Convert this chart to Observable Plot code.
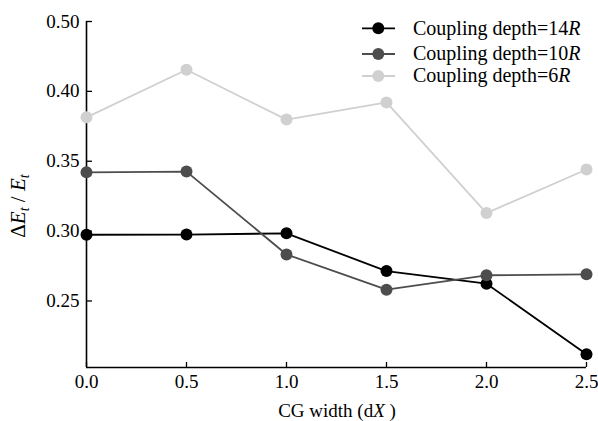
<!DOCTYPE html>
<html>
<head>
<meta charset="utf-8">
<script src="https://cdn.jsdelivr.net/npm/d3@7"></script>
<script src="https://cdn.jsdelivr.net/npm/@observablehq/plot@0.6"></script>
<style>
  html, body { margin: 0; padding: 0; background: #fff; }
  #chart { position: relative; width: 598px; height: 421px; }
</style>
</head>
<body>
<div id="chart"></div>
<script>
const widths = [0, 0.5, 1.0, 1.5, 2.0, 2.5];
const depth14R = [0.2974, 0.2975, 0.2984, 0.2714, 0.2624, 0.2119];
const depth10R = [0.3421, 0.3426, 0.2833, 0.2581, 0.2684, 0.2691];
const depth6R  = [0.3814, 0.4155, 0.3798, 0.3921, 0.3129, 0.3441];
const seriesNames = ["14", "10", "6"];
const seriesColors = ["#000000", "#4d4d4d", "#d0d0d0"];
const xTicks = [0, 0.5, 1.0, 1.5, 2.0, 2.5];
const xTickLabels = ["0.0", "0.5", "1.0", "1.5", "2.0", "2.5"];
const yTicks = [0.25, 0.30, 0.35, 0.40, 0.45];
const yTickLabels = ["0.25", "0.30", "0.35", "0.40", "0.50"];

const seriesValues = [depth14R, depth10R, depth6R];
const rows = [];
seriesNames.forEach((s, si) => widths.forEach((w, i) => rows.push({series: s, x: w, y: seriesValues[si][i]})));

const yMin = 0.2024, yMax = 0.45;
const font = "'Liberation Serif', 'Times New Roman', serif";

const marks = [];
seriesNames.forEach((s, si) => {
  const d = rows.filter(r => r.series === s);
  marks.push(Plot.line(d, {x: "x", y: "y", stroke: seriesColors[si], strokeWidth: 1.8}));
  marks.push(Plot.dot(d, {x: "x", y: "y", fill: seriesColors[si], r: 6, stroke: "none"}));
});

const plot = Plot.plot({
  width: 598,
  height: 421,
  marginLeft: 86,
  marginRight: 12,
  marginTop: 21,
  marginBottom: 54,
  style: {fontFamily: font, fontSize: "19px", color: "#000", background: "#fff"},
  x: {domain: [0, 2.5]},
  y: {domain: [yMin, yMax]},
  marks: [
    Plot.axisX({ticks: xTicks, tickFormat: (d, i) => xTickLabels[i], tickSize: -5, tickPadding: 12, label: null, strokeWidth: 1.3}),
    Plot.axisY({ticks: yTicks, tickFormat: (d, i) => yTickLabels[i], tickSize: -6, tickPadding: 13, label: null, strokeWidth: 1.3}),
    Plot.ruleX([0], {y1: yMin, y2: yMax, strokeWidth: 1.6}),
    Plot.ruleY([yMin], {x1: 0, x2: 2.5, strokeWidth: 1.6}),
    ...marks
  ]
});
document.getElementById("chart").appendChild(plot);

const svg = d3.select(plot);
// y-axis title
const yt = svg.append("text")
  .attr("transform", "translate(25,206) rotate(-90)")
  .attr("text-anchor", "middle")
  .attr("font-family", font).attr("font-size", 21).attr("fill", "#000");
yt.append("tspan").text("Δ");
yt.append("tspan").attr("font-style", "italic").text("E");
yt.append("tspan").attr("font-style", "italic").attr("font-size", 14).attr("dy", 4).text("t");
yt.append("tspan").attr("dy", -4).text(" / ");
yt.append("tspan").attr("font-style", "italic").text("E");
yt.append("tspan").attr("font-style", "italic").attr("font-size", 14).attr("dy", 4).text("t");

// x-axis title
const xt = svg.append("text")
  .attr("x", 337).attr("y", 417)
  .attr("text-anchor", "middle")
  .attr("font-family", font).attr("font-size", 19).attr("fill", "#000");
xt.append("tspan").text("CG width (d");
xt.append("tspan").attr("font-style", "italic").text("X");
xt.append("tspan").text(" )");

// legend
const legendY = [28.3, 54, 76];
const lg = svg.append("g");
seriesNames.forEach((s, i) => {
  const g = lg.append("g").attr("transform", `translate(0,${legendY[i]})`);
  g.append("line").attr("x1", 362).attr("x2", 395).attr("y1", 0).attr("y2", 0)
    .attr("stroke", seriesColors[i]).attr("stroke-width", 1.8);
  g.append("circle").attr("cx", 378.3).attr("cy", 0).attr("r", 6).attr("fill", seriesColors[i]);
  const t = g.append("text").attr("x", 413).attr("y", 0).attr("dy", "0.32em")
    .attr("text-anchor", "start")
    .attr("font-family", font).attr("font-size", 20).attr("fill", "#000");
  t.append("tspan").text("Coupling depth=" + s);
  t.append("tspan").attr("font-style", "italic").text("R");
});
</script>
</body>
</html>
